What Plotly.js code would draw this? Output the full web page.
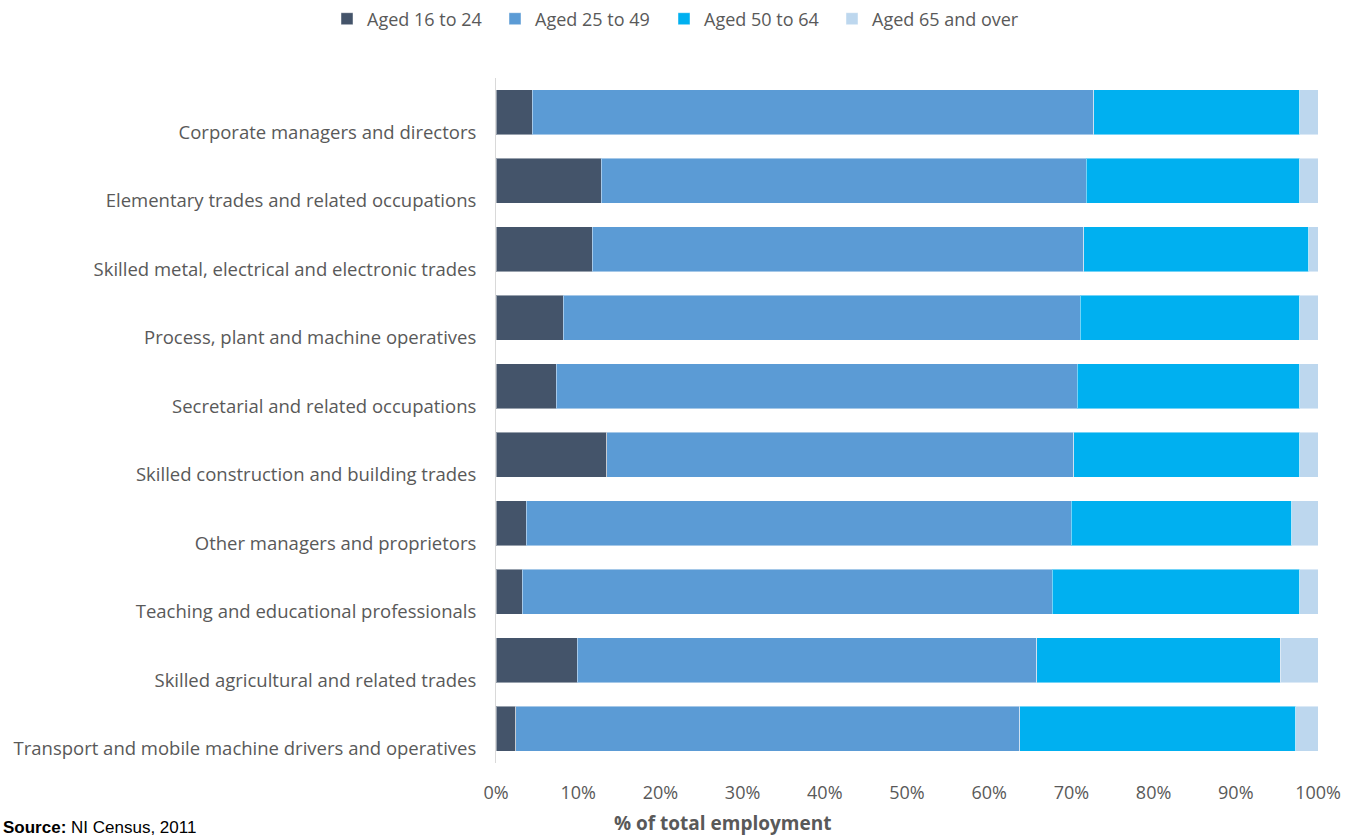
<!DOCTYPE html>
<html>
<head>
<meta charset="utf-8">
<script src="https://cdn.plot.ly/plotly-3.0.1.min.js"></script>
<style>html,body{margin:0;padding:0;background:#fff;}#chart{width:1345px;height:836px;}</style>
</head>
<body>
<div id="chart"></div>
<script>
const categories = [
  "Corporate managers and directors",
  "Elementary trades and related occupations",
  "Skilled metal, electrical and electronic trades",
  "Process, plant and machine operatives",
  "Secretarial and related occupations",
  "Skilled construction and building trades",
  "Other managers and proprietors",
  "Teaching and educational professionals",
  "Skilled agricultural and related trades",
  "Transport and mobile machine drivers and operatives"
];
const seriesNames = ["Aged 16 to 24", "Aged 25 to 49", "Aged 50 to 64", "Aged 65 and over"];
const aged16to24 = [4.4, 12.8, 11.7, 8.2, 7.3, 13.5, 3.7, 3.2, 9.9, 2.4];
const aged25to49 = [68.3, 59.0, 59.8, 62.9, 63.4, 56.8, 66.3, 64.5, 55.9, 61.3];
const aged50to64 = [25.1, 26.0, 27.4, 26.7, 27.1, 27.5, 26.8, 30.1, 29.6, 33.6];
const aged65plus = [2.2, 2.2, 1.1, 2.2, 2.2, 2.2, 3.2, 2.2, 4.6, 2.7];
const xTicks = [0, 10, 20, 30, 40, 50, 60, 70, 80, 90, 100];

const colors = ["#44546A", "#5B9BD5", "#00B0F0", "#BDD7EE"];
const values = [aged16to24, aged25to49, aged50to64, aged65plus];
const font = "'Open Sans', Lato, sans-serif";
const grey = "#595959";
const legendIds = ["legend", "legend2", "legend3", "legend4"];

const traces = values.map((v, i) => ({
  type: "bar",
  orientation: "h",
  name: seriesNames[i],
  legend: legendIds[i],
  y: categories,
  x: v,
  marker: {color: colors[i], line: {color: "rgba(255,255,255,0.45)", width: 1}},
  hoverinfo: "name+x"
}));

const W = 1345, H = 836;
const L = 496, R = 27, T = 78, B = 73;
const pw = W - L - R, ph = H - T - B;
const px = p => (p - L) / pw;
const py = p => (H - B - p) / ph;

const legendTextStarts = [367, 535, 704, 872];
const mkLegend = (textX) => ({
  orientation: "h", x: px(textX - 40), xanchor: "left", y: py(19), yanchor: "middle",
  font: {family: font, size: 18, color: grey}, itemwidth: 30, bgcolor: "rgba(0,0,0,0)"
});

const layout = {
  width: W, height: H,
  margin: {l: L, r: R, t: T, b: B, pad: 0, autoexpand: false},
  paper_bgcolor: "#fff", plot_bgcolor: "#fff",
  barmode: "stack",
  bargap: 0.34,
  font: {family: font, color: grey, size: 18},
  showlegend: true,
  xaxis: {
    range: [0, 100], tickvals: xTicks, ticktext: xTicks.map(t => t + "%"),
    showgrid: false, zeroline: false, showline: false, ticks: "",
    ticklabelstandoff: 17,
    tickfont: {family: font, size: 18, color: grey}, fixedrange: true
  },
  yaxis: {
    type: "category", autorange: "reversed",
    showgrid: false, zeroline: false, showline: true, linecolor: "#D9D9D9", linewidth: 1,
    ticks: "", ticklabelstandoff: 15, ticklabelshift: -20,
    tickfont: {family: font, size: 18.5, color: grey}, fixedrange: true
  },
  annotations: [
    {xref: "paper", yref: "paper", x: px(722), y: py(823), xanchor: "center", yanchor: "middle",
     text: "<b>% of total employment</b>", showarrow: false, font: {family: font, size: 19, color: grey}},
    {xref: "paper", yref: "paper", x: px(1), y: py(827), xanchor: "left", yanchor: "middle",
     text: "<b>Source:</b> NI Census, 2011", showarrow: false, font: {family: "'Liberation Sans', Arial, sans-serif", size: 17, color: "#000"}}
  ]
};
legendIds.forEach((id, i) => { layout[id] = mkLegend(legendTextStarts[i]); });

Plotly.newPlot("chart", traces, layout, {displayModeBar: false, responsive: false});
</script>
</body>
</html>
